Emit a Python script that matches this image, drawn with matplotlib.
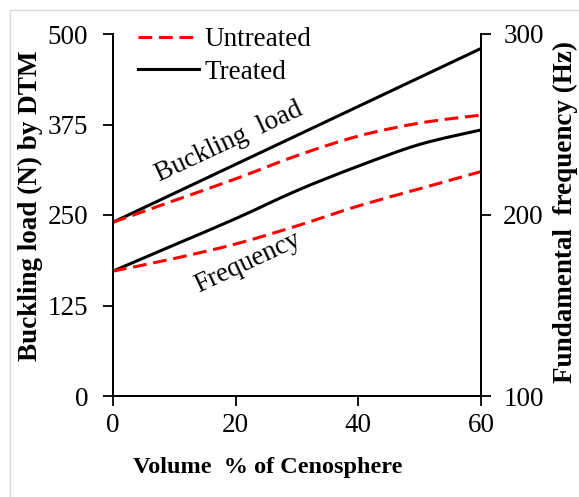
import matplotlib
matplotlib.use("Agg")
import numpy as np
import matplotlib.pyplot as plt
from matplotlib.lines import Line2D
from matplotlib.patches import Rectangle, PathPatch
from matplotlib.path import Path

plt.rcParams['font.family'] = ['Liberation Serif', 'DejaVu Serif']

# Volume fraction of cenosphere (%)
volume = [0, 10, 20, 30, 40, 50, 60]

# Buckling load (N) by DTM
buckling_treated = [240, 280, 320, 360, 400, 440, 480]
buckling_untreated = [240, 270, 300, 332, 359, 377, 388]

# Fundamental frequency (Hz)
freq_treated = [169, 183.5, 198, 213.5, 227, 239, 247]
freq_untreated = [169, 176, 184, 194, 205, 214.5, 224]

x_ticks = [0, 20, 40, 60]
load_ticks = [0, 125, 250, 375, 500]
freq_ticks = [100, 200, 300]


def smooth_path(xs, ys, tension=1 / 6):
    """Cubic Bezier path through the points (Excel-style smoothed line)."""
    xs = np.asarray(xs, float)
    ys = np.asarray(ys, float)
    pts = np.column_stack([xs, ys])
    n = len(pts)
    verts = [pts[0]]
    codes = [Path.MOVETO]
    for i in range(n - 1):
        p0 = pts[i - 1] if i > 0 else pts[i]
        p1 = pts[i]
        p2 = pts[i + 1]
        p3 = pts[i + 2] if i + 2 < n else pts[i + 1]
        c1 = p1 + (p2 - p0) * tension
        c2 = p2 - (p3 - p1) * tension
        verts += [c1, c2, p2]
        codes += [Path.CURVE4] * 3
    return Path(verts, codes)


def draw_curve(a, xs, ys, **kw):
    patch = PathPatch(smooth_path(xs, ys), fill=False, **kw)
    a.add_patch(patch)


W, H = 579, 497
fig = plt.figure(figsize=(W / 100, H / 100), dpi=100)

# light chart-area frame
fig.patches.append(Rectangle((10 / W, -0.05), 1.2, (H - 10) / H + 0.05,
                             transform=fig.transFigure, fill=False,
                             edgecolor='#d9d9d9', linewidth=1.0))

left, right, top, bottom = 113, 481, 34, 396
ax = fig.add_axes([left / W, 1 - bottom / H, (right - left) / W, (bottom - top) / H])
ax2 = ax.twinx()

red = '#ff0000'
dash = (0, (4.5, 2.2))
lw = 2.2

draw_curve(ax, volume, buckling_treated, edgecolor='black', lw=lw, capstyle='butt')
draw_curve(ax, volume, buckling_untreated, edgecolor=red, lw=lw, linestyle=dash)
draw_curve(ax2, volume, freq_treated, edgecolor='black', lw=lw, capstyle='butt')
draw_curve(ax2, volume, freq_untreated, edgecolor=red, lw=lw, linestyle=dash)

ax.set_xlim(0, 60)
ax.set_ylim(0, 500)
ax2.set_ylim(100, 300)
ax.set_xticks(x_ticks)
ax.set_yticks(load_ticks)
ax2.set_yticks(freq_ticks)

for a in (ax, ax2):
    a.spines['top'].set_visible(False)
    for s in a.spines.values():
        s.set_linewidth(1.3)
    a.tick_params(labelsize=19.5, length=7, width=1.3, direction='out')
ax.tick_params(axis='y', pad=11)
ax.tick_params(axis='x', pad=5)
ax2.tick_params(axis='y', pad=9)

fig.text(30 / W, 1 - 206 / H, 'Buckling load (N) by DTM', rotation=90,
         ha='center', va='center', fontsize=19.5, fontweight='bold')
fig.text(565 / W, 1 - 212 / H, 'Fundamental  frequency (Hz)', rotation=90,
         ha='center', va='center', fontsize=19.5, fontweight='bold')
fig.text(268 / W, 1 - 467 / H, 'Volume  % of Cenosphere',
         ha='center', va='center', fontsize=17.5, fontweight='bold')

ax.text(18.9, 351, 'Buckling  load', rotation=25, fontsize=19.5,
        ha='center', va='center', rotation_mode='anchor')
ax.text(22.0, 184, 'Frequency', rotation=25, fontsize=19.5,
        ha='center', va='center', rotation_mode='anchor')

handles = [Line2D([], [], color=red, lw=lw, linestyle=dash),
           Line2D([], [], color='black', lw=lw)]
ax.legend(handles, ['Untreated', 'Treated'], loc='upper left',
          bbox_to_anchor=(0.068, 1.018), frameon=False, fontsize=19.5,
          handlelength=2.25, handletextpad=0.2, labelspacing=0.27,
          borderaxespad=0, borderpad=0)

fig.savefig('out.png', dpi=100)
